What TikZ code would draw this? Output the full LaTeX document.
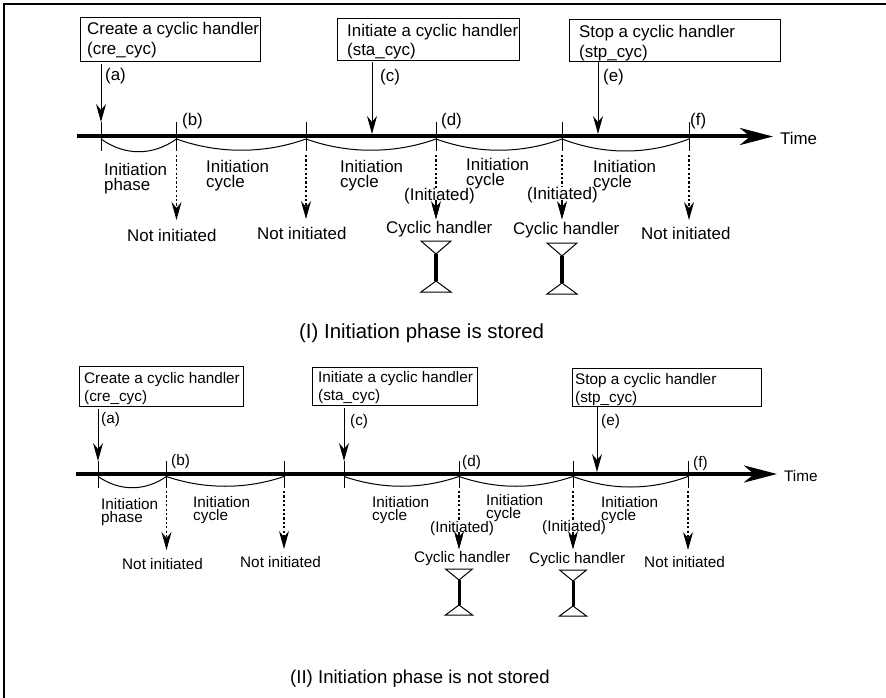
\documentclass[tikz,border=0pt]{standalone}
\usepackage{fontspec}
\setmainfont{Liberation Sans}
\usetikzlibrary{arrows.meta,calc,positioning}
\tikzset{
  cmdbox/.style={draw,line width=1.2pt,anchor=north west,inner sep=0pt},
  txtbig/.style={font=\fontsize{16.9}{15}\selectfont,inner sep=0pt},
  txtsmall/.style={font=\fontsize{15.3}{13}\selectfont,inner sep=0pt},
  lbl/.style={anchor=base west,yshift=-0.5pt},
  lbltwo/.style={anchor=north west,align=left},
  axisline/.style={line width=4pt,-{Stealth[length=33pt,width=17pt,inset=10pt]}},
  tickline/.style={line width=1pt},
  cycline/.style={line width=1pt},
  cmdarrow/.style={line width=1pt,-{Stealth[length=18pt,width=10pt,inset=6pt]}},
  dotarrow/.style={line width=1.1pt,dash pattern=on 2.2pt off 2.2pt,-{Stealth[length=18pt,width=10pt,inset=6pt,sep=0pt]}},
  wasp/.style={line width=1pt,fill=white,line join=miter}
}
\begin{document}
\begin{tikzpicture}[x=1pt,y=-1pt]
  \useasboundingbox (0,0) rectangle (886,698);
  % frame
  \draw[line width=2pt] (886,4) -- (4,4) -- (4,698);

  % (I) boxes
  \node[cmdbox,minimum width=180pt,minimum height=44pt] (crebox) at (80,17) {};
  \node[cmdbox,minimum width=182pt,minimum height=42pt] (stabox) at (337,18) {};
  \node[cmdbox,minimum width=211pt,minimum height=42pt] (stpbox) at (569,19) {};
  \node[txtbig,lbl] (cretxt) at (87,34) {Create a cyclic handler};
  \node[txtbig,lbl] (cretxtb) at (87,54.5) {(cre\_cyc)};
  \node[txtbig,lbl] (statxt) at (347,36) {Initiate a cyclic handler};
  \node[txtbig,lbl] (statxtb) at (347,55) {(sta\_cyc)};
  \node[txtbig,lbl] (stptxt) at (579,37) {Stop a cyclic handler};
  \node[txtbig,lbl] (stptxtb) at (579,57) {(stp\_cyc)};

  % (I) time line
  \coordinate (axsa) at (77,136.5);
  \coordinate (axsb) at (773,136.5);
  \draw[axisline] (axsa) -- (axsb);
  \node[txtbig,lbl] (timea) at (780,144) {Time};
  \foreach \tk/\x/\tip in {a/101/0,b/176.5/220,c/306/219,d/436/219,e/562/219,f/689/220} {
    \draw[tickline] (\x,122) coordinate (top\tk) -- (\x,151) coordinate (bot\tk);
    \coordinate (tip\tk) at (\x,\tip);
    \coordinate (mid\tk) at (\x,139);
  }
  \foreach \l/\r/\dep/\off in {a/b/17/24,b/c/15/42,c/d/15/42,d/e/15/42,e/f/16/42}
    \draw[cycline] (mid\l) .. controls ($(mid\l)+(\off,\dep)$) and ($(mid\r)+(-\off,\dep)$) .. (mid\r);
  \foreach \tk in {b,c,d,e,f}
    \draw[dotarrow] ($(bot\tk)+(0,4)$) -- (tip\tk);
  \coordinate (onaxc) at (372,134);
  \coordinate (onaxe) at (598,134);
  \draw[cmdarrow] (crebox.south -| topa) ++(0,2) -- (topa);
  \draw[cmdarrow] (stabox.south -| onaxc) ++(0,1) -- (onaxc);
  \draw[cmdarrow] (stpbox.south -| onaxe) -- (onaxe);

  % (I) labels
  \node[txtbig,lbl] (la) at (105,80) {(a)};
  \node[txtbig,lbl] (lb) at (182,125) {(b)};
  \node[txtbig,lbl] (lc) at (380,81) {(c)};
  \node[txtbig,lbl] (ld) at (441,125) {(d)};
  \node[txtbig,lbl] (le) at (603,81) {(e)};
  \node[txtbig,lbl] (lf) at (690,125) {(f)};
  \node[txtbig,lbltwo] (phasea) at (104,162.8) {Initiation\\phase};
  \node[txtbig,lbltwo] (cyca) at (206,159.8) {Initiation\\cycle};
  \node[txtbig,lbltwo] (cycb) at (340,159.8) {Initiation\\cycle};
  \node[txtbig,lbltwo] (cycc) at (466,157.8) {Initiation\\cycle};
  \node[txtbig,lbltwo] (cycd) at (593,159.8) {Initiation\\cycle};
  \node[txtbig,lbl] (nota) at (127,241) {Not initiated};
  \node[txtbig,lbl] (notb) at (257,239) {Not initiated};
  \node[txtbig,lbl] (notc) at (641,239) {Not initiated};
  \node[txtbig,lbl,fill=white] (inia) at (404,200) {(Initiated)};
  \node[txtbig,lbl,fill=white] (inib) at (527,199) {(Initiated)};
  \node[txtbig,lbl] (hana) at (386,233) {Cyclic handler};
  \node[txtbig,lbl] (hanb) at (513,234) {Cyclic handler};
  \draw[dotarrow,dash pattern=] (436,200) -- (tipd);
  \draw[dotarrow,dash pattern=] (562,200) -- (tipe);
  \foreach \x/\y in {436/241,562/243} {
    \draw[wasp] (\x-15,\y) -- (\x+15,\y) -- (\x,\y+13) -- cycle;
    \draw[line width=3.2pt] (\x,\y+13) -- (\x,\y+40);
    \draw[wasp] (\x,\y+40) -- (\x+15,\y+51) -- (\x-15,\y+51) -- cycle;
  }
  \node[lbl,inner sep=0pt,font=\fontsize{20.4}{21}\selectfont] (capa) at (299,338) {(I) Initiation phase is stored};

  % (II) boxes
  \node[cmdbox,minimum width=164pt,minimum height=40pt] (creboxb) at (79,366) {};
  \node[cmdbox,minimum width=165pt,minimum height=38pt] (staboxb) at (312,367) {};
  \node[cmdbox,minimum width=189pt,minimum height=38pt] (stpboxb) at (572,368) {};
  \node[txtsmall,lbl] (cretxtc) at (84,383) {Create a cyclic handler};
  \node[txtsmall,lbl] (cretxtd) at (84,401) {(cre\_cyc)};
  \node[txtsmall,lbl] (statxtc) at (318,382) {Initiate a cyclic handler};
  \node[txtsmall,lbl] (statxtd) at (318,400) {(sta\_cyc)};
  \node[txtsmall,lbl] (stptxtc) at (575,384) {Stop a cyclic handler};
  \node[txtsmall,lbl] (stptxtd) at (575,402) {(stp\_cyc)};

  % (II) time line
  \coordinate (axta) at (76,474);
  \coordinate (axtb) at (777,474);
  \draw[axisline] (axta) -- (axtb);
  \node[txtsmall,lbl] (timeb) at (784,481) {Time};
  \foreach \tk/\x/\tip in {g/98/0,h/166.5/550,i/284/549,j/344/0,k/459/549,m/573/549,n/688/550} {
    \draw[tickline] (\x,461) coordinate (top\tk) -- (\x,488) coordinate (bot\tk);
    \coordinate (tip\tk) at (\x,\tip);
    \coordinate (mid\tk) at (\x,476.5);
  }
  \foreach \l/\r/\dep/\off in {g/h/15/22,h/i/13/38,j/k/13/38,k/m/13/38,m/n/14/38}
    \draw[cycline] (mid\l) .. controls ($(mid\l)+(\off,\dep)$) and ($(mid\r)+(-\off,\dep)$) .. (mid\r);
  \foreach \tk in {h,i,k,m,n}
    \draw[dotarrow] ($(bot\tk)+(0,3)$) -- (tip\tk);
  \coordinate (onaxf) at (597,472);
  \draw[cmdarrow] (creboxb.south -| topg) ++(0,2) -- (topg);
  \draw[cmdarrow] (staboxb.south -| topj) ++(0,2) -- (topj);
  \draw[cmdarrow] (stpboxb.south -| onaxf) -- (onaxf);

  % (II) labels
  \node[txtsmall,lbl] (lg) at (101,423) {(a)};
  \node[txtsmall,lbl] (lh) at (171,465) {(b)};
  \node[txtsmall,lbl] (lj) at (350,425) {(c)};
  \node[txtsmall,lbl] (lk) at (462,466) {(d)};
  \node[txtsmall,lbl] (lm) at (601,425) {(e)};
  \node[txtsmall,lbl] (ln) at (693,467) {(f)};
  \node[txtsmall,lbltwo] (phaseb) at (101,498) {Initiation\\phase};
  \node[txtsmall,lbltwo] (cyce) at (193,496) {Initiation\\cycle};
  \node[txtsmall,lbltwo] (cycf) at (372,496) {Initiation\\cycle};
  \node[txtsmall,lbltwo] (cycg) at (486,494) {Initiation\\cycle};
  \node[txtsmall,lbltwo] (cych) at (601,496) {Initiation\\cycle};
  \node[txtsmall,lbl] (notd) at (122,569) {Not initiated};
  \node[txtsmall,lbl] (note) at (240,567) {Not initiated};
  \node[txtsmall,lbl] (notf) at (644,567) {Not initiated};
  \node[txtsmall,lbl,fill=white] (inic) at (430,532) {(Initiated)};
  \node[txtsmall,lbl,fill=white] (inid) at (542,531) {(Initiated)};
  \node[txtsmall,lbl] (hanc) at (414,562) {Cyclic handler};
  \node[txtsmall,lbl] (hand) at (529,563) {Cyclic handler};
  \draw[dotarrow,dash pattern=] (459,532) -- (tipk);
  \draw[dotarrow,dash pattern=] (573,532) -- (tipm);
  \foreach \x/\y in {459/569,573/570} {
    \draw[wasp] (\x-13.5,\y) -- (\x+13.5,\y) -- (\x,\y+11) -- cycle;
    \draw[line width=3pt] (\x,\y+11) -- (\x,\y+36);
    \draw[wasp] (\x,\y+36) -- (\x+13.5,\y+46) -- (\x-13.5,\y+46) -- cycle;
  }
  \node[lbl,inner sep=0pt,font=\fontsize{18.6}{19}\selectfont] (capb) at (290,683) {(II) Initiation phase is not stored};
\end{tikzpicture}
\end{document}
